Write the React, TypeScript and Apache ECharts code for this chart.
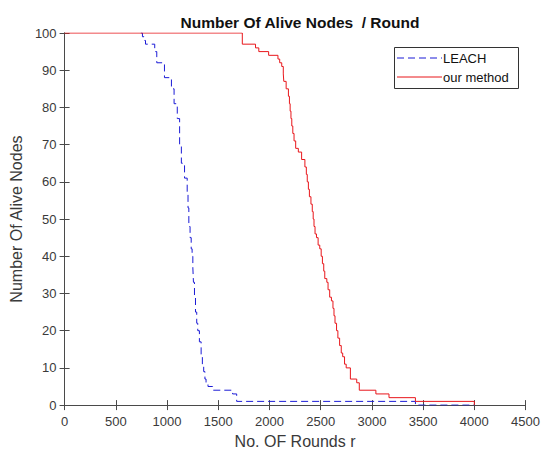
import React, { useEffect, useRef } from "react";
import * as echarts from "echarts";

const xTicks = [0, 500, 1000, 1500, 2000, 2500, 3000, 3500, 4000, 4500];
const yTicks = [0, 10, 20, 30, 40, 50, 60, 70, 80, 90, 100];
const legendNames = ["LEACH", "our method"];

const leachRounds = [745, 760, 775, 790, 880, 900, 975, 1043, 1069, 1100, 1123, 1140, 1171, 1197, 1205, 1213, 1225, 1236, 1245, 1252, 1258, 1268, 1278, 1290, 1300, 1316, 1333, 1345, 1358, 1370, 1381, 1400, 1445, 1640, 1680, 3425, 4000];
const leachNodes = [100, 99, 98, 97, 95, 92, 88, 85, 81, 77, 70, 65, 61, 57, 53, 48, 45, 42, 40, 37, 33, 29, 25, 22, 20, 17, 13, 11, 9, 7, 6, 5, 4, 3, 1, 0, 0];

const oursRounds = [0, 1735, 1864, 1896, 1992, 2083, 2100, 2120, 2135, 2140, 2163, 2185, 2195, 2202, 2210, 2218, 2228, 2240, 2256, 2282, 2314, 2346, 2360, 2369, 2380, 2390, 2405, 2418, 2427, 2435, 2445, 2459, 2475, 2491, 2505, 2517, 2530, 2540, 2560, 2572, 2588, 2605, 2620, 2630, 2640, 2655, 2668, 2685, 2701, 2715, 2733, 2749, 2790, 2852, 2877, 3039, 3167, 3425, 4000];
const oursNodes = [100, 97, 96, 95, 94, 93, 92, 91, 89, 87, 85, 83, 81, 79, 77, 75, 73, 71, 69, 68, 66, 64, 62, 60, 58, 56, 54, 52, 50, 48, 46, 45, 43, 42, 40, 38, 36, 34, 33, 31, 29, 28, 26, 24, 22, 20, 18, 16, 14, 13, 11, 10, 7, 6, 4, 3, 2, 1, 0];

const FONT = "Liberation Sans, Arial, sans-serif";
const AXIS_COLOR = "#4a4a4a";
const TEXT_COLOR = "#3a3a3a";
const BLUE = "#1b1bd6";
const RED = "#e8161b";

export default function App() {
  const ref = useRef<HTMLDivElement>(null);
  useEffect(() => {
    if (!ref.current) return;
    const chart = echarts.init(ref.current, null, { renderer: "svg" });
    const leach = leachRounds.map((r, i) => [r, leachNodes[i]]);
    const ours = oursRounds.map((r, i) => [r, oursNodes[i]]);
    const tickCommon = { show: true, inside: true, length: 5, lineStyle: { color: AXIS_COLOR } };
    const lineCommon = { show: true, lineStyle: { color: AXIS_COLOR, width: 1 } };
    chart.setOption({
      animation: false,
      backgroundColor: "#ffffff",
      title: {
        text: "Number Of Alive Nodes  / Round",
        left: 295,
        textAlign: "center",
        top: 9,
        textStyle: { fontFamily: FONT, fontSize: 15.5, fontWeight: "bold", color: "#111" },
      },
      graphic: [
        {
          type: "rect",
          shape: { x: 394.5, y: 47.5, width: 124, height: 41 },
          style: { fill: "#fff", stroke: "#333", lineWidth: 1 },
          z: 100,
        },
        {
          type: "line",
          shape: { x1: 397, y1: 58, x2: 442, y2: 58 },
          style: { stroke: BLUE, lineWidth: 1, lineDash: [7, 4] },
          z: 101,
        },
        {
          type: "text",
          x: 443,
          y: 58,
          style: { text: legendNames[0], fontFamily: FONT, fontSize: 13, fill: "#111", verticalAlign: "middle" },
          z: 101,
        },
        {
          type: "line",
          shape: { x1: 397, y1: 77, x2: 442, y2: 77 },
          style: { stroke: RED, lineWidth: 1 },
          z: 101,
        },
        {
          type: "text",
          x: 443,
          y: 77,
          style: { text: legendNames[1], fontFamily: FONT, fontSize: 13, fill: "#111", verticalAlign: "middle" },
          z: 101,
        },
      ],
      grid: { left: 62, right: 15, top: 33, bottom: 46, containLabel: false },
      xAxis: [
        {
          type: "value",
          min: 0,
          max: 4500,
          interval: 500,
          position: "bottom",
          name: "No. OF Rounds r",
          nameLocation: "middle",
          nameGap: 19,
          nameTextStyle: { fontFamily: FONT, fontSize: 16, color: TEXT_COLOR },
          axisLine: lineCommon,
          axisTick: tickCommon,
          axisLabel: {
            margin: 10,
            fontFamily: FONT,
            fontSize: 13,
            color: TEXT_COLOR,
            formatter: (v: number) => (xTicks.includes(v) ? String(v) : ""),
          },
          splitLine: { show: false },
        },
        {
          type: "value",
          min: 0,
          max: 4500,
          interval: 500,
          position: "top",
          axisLine: lineCommon,
          axisTick: tickCommon,
          axisLabel: { show: false },
          splitLine: { show: false },
        },
      ],
      yAxis: [
        {
          type: "value",
          min: 0,
          max: 100,
          interval: 10,
          position: "left",
          name: "Number Of Alive Nodes",
          nameLocation: "middle",
          nameRotate: 90,
          nameGap: 35,
          nameTextStyle: { fontFamily: FONT, fontSize: 16, color: TEXT_COLOR },
          axisLine: lineCommon,
          axisTick: tickCommon,
          axisLabel: {
            margin: 8,
            fontFamily: FONT,
            fontSize: 13,
            color: TEXT_COLOR,
            formatter: (v: number) => (yTicks.includes(v) ? String(v) : ""),
          },
          splitLine: { show: false },
        },
        {
          type: "value",
          min: 0,
          max: 100,
          interval: 10,
          position: "right",
          axisLine: lineCommon,
          axisTick: tickCommon,
          axisLabel: { show: false },
          splitLine: { show: false },
        },
      ],
      series: [
        {
          name: legendNames[0],
          type: "line",
          step: "end",
          data: leach,
          showSymbol: false,
          symbol: "none",
          lineStyle: { color: BLUE, width: 1, type: [7, 4] },
          itemStyle: { color: BLUE },
          z: 2,
        },
        {
          name: legendNames[1],
          type: "line",
          step: "end",
          data: ours,
          showSymbol: false,
          symbol: "none",
          lineStyle: { color: RED, width: 1 },
          itemStyle: { color: RED },
          z: 3,
        },
      ],
    });
    return () => chart.dispose();
  }, []);
  return (
    <div
      ref={ref}
      style={{ position: "fixed", left: 0, top: 0, width: 543, height: 454, background: "#fff" }}
    />
  );
}
